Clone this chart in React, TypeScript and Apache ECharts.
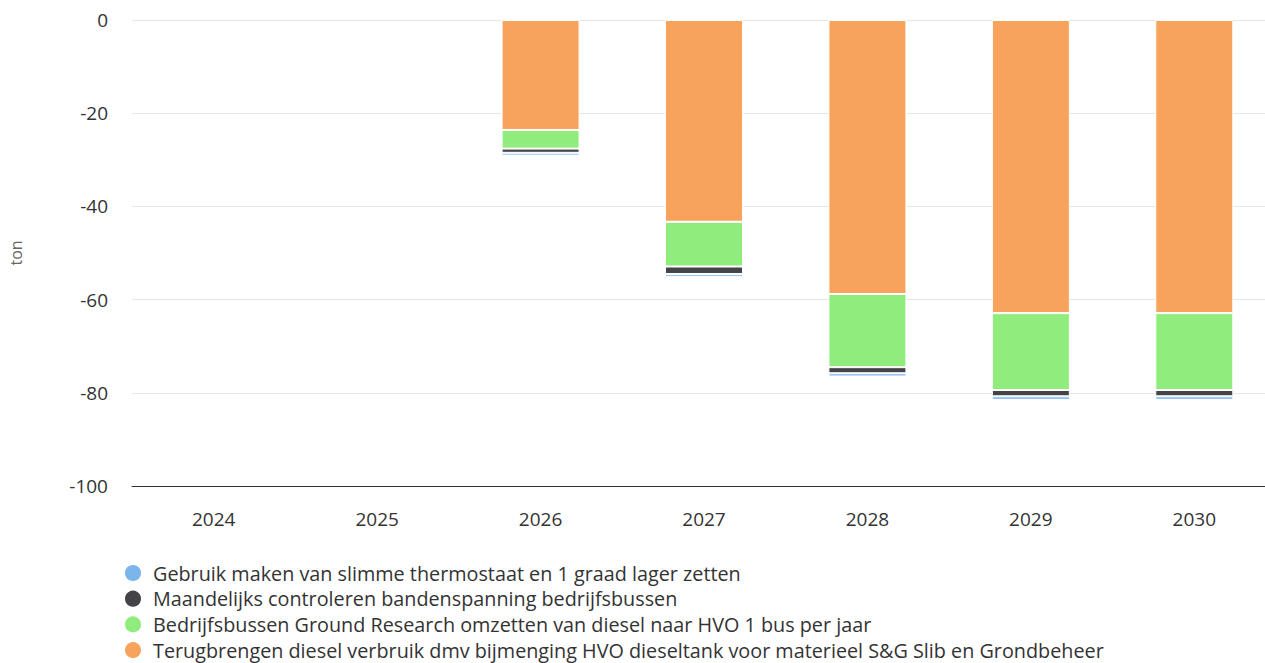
import React, { useEffect, useRef } from "react";
import * as echarts from "echarts";

const years = ["2024", "2025", "2026", "2027", "2028", "2029", "2030"];
const seriesNames = [
  "Gebruik maken van slimme thermostaat en 1 graad lager zetten",
  "Maandelijks controleren bandenspanning bedrijfsbussen",
  "Bedrijfsbussen Ground Research omzetten van diesel naar HVO 1 bus per jaar",
  "Terugbrengen diesel verbruik dmv bijmenging HVO dieseltank voor materieel S&G Slib en Grondbeheer",
];
const thermostaat = [0, 0, -0.6, -0.6, -0.7, -0.75, -0.75];
const banden = [0, 0, -0.9, -1.6, -1.3, -1.35, -1.35];
const hvoBus = [0, 0, -4.0, -9.6, -15.7, -16.5, -16.5];
const diesel = [0, 0, -23.6, -43.3, -58.8, -62.9, -62.9];
const colors = ["#7cb5ec", "#434348", "#90ed7d", "#f7a35c"];
const yTicks = { min: -100, max: 0, interval: 20 };

export default function App() {
  const ref = useRef<HTMLDivElement>(null);
  useEffect(() => {
    const chart = echarts.init(ref.current!, undefined, { renderer: "svg" });
    const font = "'Open Sans', sans-serif";
    const mk = (idx: number, data: number[]) => ({
      name: seriesNames[idx],
      type: "bar",
      stack: "total",
      data: data.map((v) => (v === 0 ? "-" : v)),
      barWidth: 78,
      itemStyle: { color: colors[idx], borderColor: "#ffffff", borderWidth: 1 },
    });
    chart.setOption({
      animation: false,
      textStyle: { fontFamily: font },
      grid: { left: 132, top: 20, width: 1144, height: 466, containLabel: false },
      xAxis: {
        type: "category",
        data: years,
        axisLine: { onZero: false, lineStyle: { color: "#333333", width: 1 } },
        axisTick: { show: false },
        axisLabel: { color: "#333333", fontSize: 19, fontFamily: font, margin: 23 },
      },
      yAxis: {
        type: "value",
        min: yTicks.min,
        max: yTicks.max,
        interval: yTicks.interval,
        name: "ton",
        nameLocation: "middle",
        nameGap: 108,
        nameTextStyle: { color: "#666666", fontSize: 16, fontFamily: font },
        axisLine: { show: false },
        axisTick: { show: false },
        axisLabel: { color: "#333333", fontSize: 19, fontFamily: font, margin: 24 },
        splitLine: { lineStyle: { color: "#e6e6e6", width: 1 } },
      },
      legend: {
        orient: "vertical",
        left: 123,
        top: 563,
        height: 200,
        padding: 0,
        icon: "circle",
        itemWidth: 18,
        itemHeight: 18,
        itemGap: 5.7,
        data: seriesNames.map((n) => ({ name: n })),
        textStyle: {
          color: "#333333",
          fontSize: 19.8,
          lineHeight: 20,
          fontFamily: font,
          padding: [0, 0, 0, 6],
        },
      },
      series: [mk(3, diesel), mk(2, hvoBus), mk(1, banden), mk(0, thermostaat)],
    });
    return () => chart.dispose();
  }, []);
  return (
    <div
      style={{
        position: "fixed",
        left: 0,
        top: 0,
        width: 1265,
        height: 663,
        overflow: "hidden",
        background: "#ffffff",
      }}
    >
      <div ref={ref} style={{ width: 1290, height: 663 }} />
    </div>
  );
}
